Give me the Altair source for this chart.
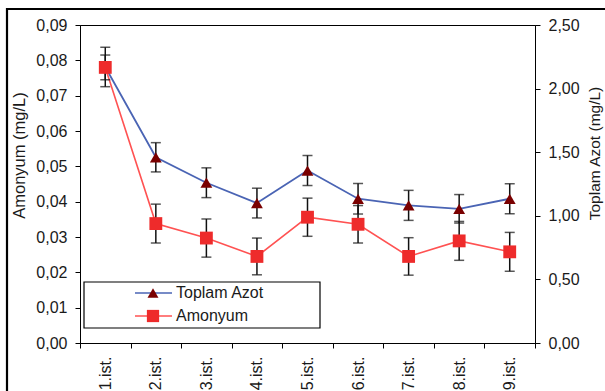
import altair as alt
import pandas as pd

# Sampling stations
stations = ["1.ist.", "2.ist.", "3.ist.", "4.ist.", "5.ist.", "6.ist.", "7.ist.", "8.ist.", "9.ist."]

# Ammonium (mg/L) and its error
amonyum = [0.0780, 0.0338, 0.0297, 0.0245, 0.0356, 0.0336, 0.0245, 0.0289, 0.0258]
amonyum_err = [0.0035, 0.0055, 0.0054, 0.0052, 0.0054, 0.0053, 0.0053, 0.0055, 0.0055]

# Total nitrogen (mg/L) and its error
azot = [2.17, 1.46, 1.26, 1.10, 1.356, 1.134, 1.082, 1.055, 1.134]
azot_err = [0.155, 0.115, 0.117, 0.117, 0.118, 0.12, 0.118, 0.112, 0.118]

# Axis tick values
amonyum_ticks = [0.0, 0.01, 0.02, 0.03, 0.04, 0.05, 0.06, 0.07, 0.08, 0.09]
azot_ticks = [0.0, 0.5, 1.0, 1.5, 2.0, 2.5]

series_names = ["Toplam Azot", "Amonyum"]
line_colors = ["#4A64B4", "#FF5252"]
marker_colors = ["#7A0000", "#EE2B2B"]
marker_shapes = ["triangle-up", "square"]

FONT = "Liberation Sans"
TXT = "#1a1a1a"

amon_df = pd.DataFrame({
    "station": stations,
    "value": amonyum,
    "lo": [v - e for v, e in zip(amonyum, amonyum_err)],
    "hi": [v + e for v, e in zip(amonyum, amonyum_err)],
})
azot_df = pd.DataFrame({
    "station": stations,
    "value": azot,
    "lo": [v - e for v, e in zip(azot, azot_err)],
    "hi": [v + e for v, e in zip(azot, azot_err)],
})
legend_df = pd.DataFrame({"series": series_names})

x_enc = alt.X(
    "station:N",
    sort=stations,
    scale=alt.Scale(paddingInner=0, paddingOuter=0),
    axis=alt.Axis(
        title=None, labelAngle=270, tickBand="extent", tickSize=5,
        tickColor="black", domainColor="black", labelColor=TXT,
        labelFont=FONT, labelFontSize=16, labelPadding=8, grid=False,
        labelOverlap=False,
    ),
)

comma_fmt = "replace(format(datum.value, '.2f'), '.', ',')"

left_scale = alt.Scale(domain=[0, 0.09], nice=False, zero=True)
right_scale = alt.Scale(domain=[0, 2.5], nice=False, zero=True)

left_axis = alt.Axis(
    values=amonyum_ticks, labelExpr=comma_fmt, grid=False,
    labelOverlap=False, labelFlush=False,
    tickSize=5, tickColor="black", domainColor="black", labelColor=TXT,
    labelFont=FONT, labelFontSize=16, labelPadding=8,
    title="Amonyum (mg/L)", titleFont=FONT, titleFontSize=16.5,
    titleFontWeight="normal", titleColor=TXT, titleAngle=270,
    titleAlign="center", titleBaseline="middle", titleX=-61, titleY=130,
)
right_axis = alt.Axis(
    orient="right", values=azot_ticks, labelExpr=comma_fmt,
    labelOverlap=False, labelFlush=False,
    grid=False, tickSize=5, tickColor="black", domainColor="black",
    labelColor=TXT, labelFont=FONT, labelFontSize=16, labelPadding=8,
    title="Toplam Azot (mg/L)", titleFont=FONT, titleFontSize=15.5,
    titleFontWeight="normal", titleColor=TXT, titleAngle=270,
    titleAlign="center", titleBaseline="middle", titleX=59, titleY=128,
)


def y_of(field, scale, axis):
    return alt.Y(f"{field}:Q", scale=scale, axis=axis)


def series_layer(df, scale, axis, line_color, line_width, shape, size, color):
    base = alt.Chart(df)
    return alt.layer(
        base.mark_line(color=line_color, strokeWidth=line_width).encode(
            x=x_enc, y=y_of("value", scale, axis)),
        base.mark_rule(color="#111", strokeWidth=1.5).encode(
            x=x_enc, y=y_of("lo", scale, axis), y2="hi:Q"),
        base.mark_tick(color="#111", size=10, thickness=1.5).encode(
            x=x_enc, y=y_of("lo", scale, axis)),
        base.mark_tick(color="#111", size=10, thickness=1.5).encode(
            x=x_enc, y=y_of("hi", scale, axis)),
        base.mark_point(shape=shape, filled=True, size=size,
                        color=color, opacity=1).encode(
            x=x_enc, y=y_of("value", scale, axis)),
    )


# Total nitrogen on the right axis, ammonium on the left axis
azot_layer = series_layer(azot_df, right_scale, right_axis, line_colors[0], 1.8,
                          marker_shapes[0], 140, marker_colors[0])
amon_layer = series_layer(amon_df, left_scale, left_axis, line_colors[1], 1.6,
                          marker_shapes[1], 165, marker_colors[1])

# Legend box drawn inside the plot area
one_row = pd.DataFrame({"k": [0]})
legend_box = alt.Chart(one_row).mark_rect(
    fill="white", stroke="black", strokeWidth=1.2).encode(
    x=alt.value(4), x2=alt.value(240), y=alt.value(257), y2=alt.value(303))

leg_y = alt.Y("series:N", scale=alt.Scale(type="point", domain=series_names,
                                          range=[268, 291], padding=0),
              axis=None)
leg_base = alt.Chart(legend_df)
legend_layer = alt.layer(
    leg_base.mark_rule(strokeWidth=1.6).encode(
        x=alt.value(55), x2=alt.value(92), y=leg_y,
        color=alt.Color("series:N", scale=alt.Scale(domain=series_names, range=line_colors),
                        legend=None)),
    leg_base.mark_point(filled=True, opacity=1).encode(
        x=alt.value(73), y=leg_y,
        fill=alt.Fill("series:N", scale=alt.Scale(domain=series_names, range=marker_colors),
                      legend=None),
        shape=alt.Shape("series:N", scale=alt.Scale(domain=series_names, range=marker_shapes),
                        legend=None),
        size=alt.Size("series:N", scale=alt.Scale(domain=series_names, range=[120, 150]),
                      legend=None)),
    leg_base.mark_text(align="left", baseline="middle", font=FONT, fontSize=16,
                       color=TXT).encode(
        x=alt.value(96), y=leg_y, text="series:N"),
)

# Outer frame of the figure: only its top and left edges fall on the page
frame_top = alt.Chart(one_row).mark_rule(color="black", strokeWidth=2.2).encode(
    x=alt.value(-74), x2=alt.value(560), y=alt.value(-16))
frame_left = alt.Chart(one_row).mark_rule(color="black", strokeWidth=2.2).encode(
    x=alt.value(-73), y=alt.value(-17), y2=alt.value(400))

chart = alt.layer(
    azot_layer, amon_layer, legend_box, legend_layer, frame_top, frame_left
).resolve_scale(
    y="independent"
).properties(
    width=455, height=318,
    autosize=alt.AutoSizeParams(type="none"),
    padding={"left": 80, "top": 25, "right": 70, "bottom": 48},
    background="white",
).configure_view(
    stroke="black", strokeWidth=1
)

chart.save("out.html", embed_options={"renderer": "svg", "actions": False})
